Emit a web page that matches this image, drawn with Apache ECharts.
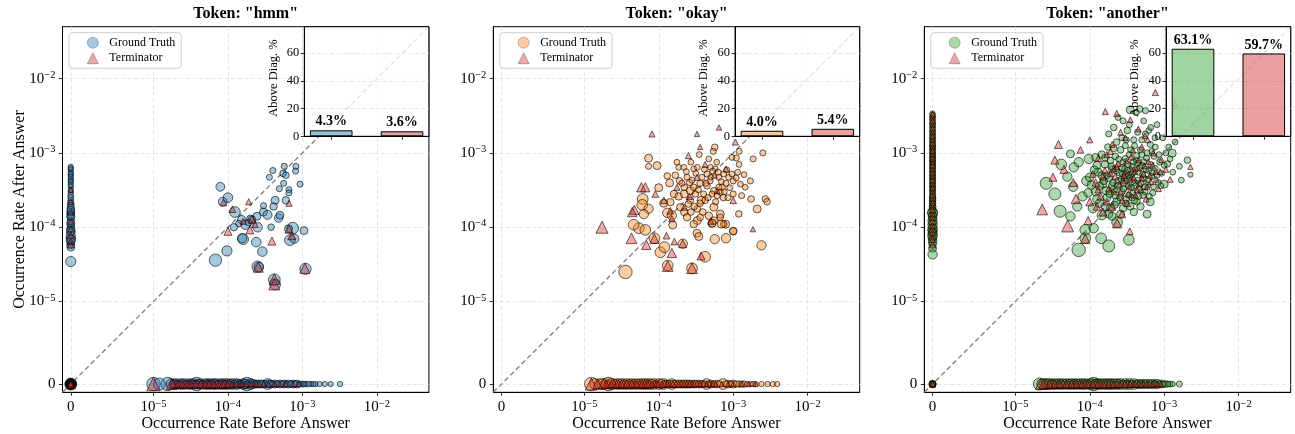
<!DOCTYPE html>
<html><head><meta charset="utf-8">
<script src="https://cdn.jsdelivr.net/npm/echarts@6/dist/echarts.min.js"></script>
<style>html,body{margin:0;padding:0;background:#fff}#c{width:1295px;height:434px}</style>
</head><body><div id="c"></div>
<script>
// ---------------- DATA ----------------
const panelTokens = ['hmm', 'okay', 'another'];
const aboveDiagGT = [4.3, 4.0, 63.1];      // % of Ground Truth points above the diagonal
const aboveDiagTerm = [3.6, 5.4, 59.7];    // % of Terminator points above the diagonal
const rateTicks = [0, 1e-5, 1e-4, 1e-3, 1e-2];
const rateTickLabels = ['0', '10{sup|\u22125}', '10{sup|\u22124}', '10{sup|\u22123}', '10{sup|\u22122}'];
const rateMin = -1e-6, rateMax = 0.05;
const insetTicks = [0, 20, 40, 60];
const insetMax = 79;

// points: [rate before answer, rate after answer, marker weight]
const hmmGT = [
 [0,0,3.4],[0,0,3.2],[0,0,3.0],[0,0,2.8],[0,0,2.6],[0,0,2.4],[0,0,2.2],[0,0,2.0],[0,0,1.8],[0,0,1.6],[0,0,1.4],[0,0,1.2],[0,0,1.0],
 [0,6.5e-4,1],[0,6.0e-4,1],[0,5.5e-4,1],[0,5.0e-4,1],[0,4.4e-4,1],[0,4.0e-4,1],[0,3.5e-4,1],[0,3.0e-4,1],[0,2.7e-4,1.2],[0,2.3e-4,1.2],[0,2.1e-4,1.5],[0,1.8e-4,1.8],[0,1.6e-4,2],[0,1.5e-4,2],[0,1.35e-4,1.8],[0,1.2e-4,1.8],[0,1.05e-4,1.8],[0,9.5e-5,2],[0,8.5e-5,2.2],[0,7.5e-5,2.5],[0,7.0e-5,2.2],[0,6.4e-5,2],[0,5.8e-5,2],[0,5.4e-5,2],[0,3.45e-5,2.8],
 [0,6.2e-4,1],[0,5.2e-4,1],[0,4.7e-4,1],[0,4.2e-4,1],[0,3.7e-4,1],[0,3.2e-4,1],[0,2.5e-4,1.2],[0,1.95e-4,1.5],[0,1.7e-4,1.8],[0,1.4e-4,2],[0,1.12e-4,2],[0,9.0e-5,2.2],[0,6.7e-5,2.5],
 [1.0e-5,0,4],[1.55e-5,0,4],[1.75e-5,0,3],[2.0e-5,0,3],[2.3e-5,0,3],[2.6e-5,0,3],[3.0e-5,0,3],[3.4e-5,0,3],[3.8e-5,0,4],[4.3e-5,0,3],[5.0e-5,0,3],[5.6e-5,0,3],[6.3e-5,0,3],[7.0e-5,0,3],[8.0e-5,0,3],[9.0e-5,0,3],[1.0e-4,0,3],[1.15e-4,0,3],[1.3e-4,0,3],[1.45e-4,0,2],[1.6e-4,0,3],[1.8e-4,0,4],[2.0e-4,0,3],[2.3e-4,0,2],[2.6e-4,0,2],[3.0e-4,0,2],[3.4e-4,0,3],[3.8e-4,0,2],[4.3e-4,0,2],[5.0e-4,0,2],[5.7e-4,0,2],[6.5e-4,0,2],[7.5e-4,0,2],[8.5e-4,0,2],[1.0e-3,0,1],[1.1e-3,0,1],[1.3e-3,0,1],[1.5e-3,0,1],[1.7e-3,0,1],[2.0e-3,0,1],[2.4e-3,0,1],[3.2e-3,0,1],
 [1.2e-5,0,3.5],[1.9e-5,0,2.5],[2.15e-5,0,2],[2.45e-5,0,2.5],[2.8e-5,0,2],[3.2e-5,0,2.5],[3.6e-5,0,2],[4.0e-5,0,2.5],[4.6e-5,0,2],[5.3e-5,0,2.5],[5.9e-5,0,2],[6.6e-5,0,2.5],[7.5e-5,0,2],[8.5e-5,0,2.5],[9.5e-5,0,2],[1.08e-4,0,2.5],[1.22e-4,0,2],[1.38e-4,0,2.5],[1.52e-4,0,2],[1.7e-4,0,2.5],[1.9e-4,0,2],[2.15e-4,0,2.5],[2.45e-4,0,2],[2.8e-4,0,2],[3.2e-4,0,1.5],[3.6e-4,0,2],[4.0e-4,0,1.5],[4.6e-4,0,1.5],[5.3e-4,0,1.5],[6.1e-4,0,1.5],[7.0e-4,0,1.5],[8.0e-4,0,1.5],[9.2e-4,0,1.2],[1.05e-3,0,1.2],[1.2e-3,0,1.2],[1.4e-3,0,1],
 [6.8e-5,3.6e-5,3.6],[9.7e-5,4.8e-5,2.8],[7.9e-5,3.5e-4,2.3],[1.0e-4,2.5e-4,2.6],[8.5e-5,2.2e-4,2.3],[1.24e-4,1.6e-4,3],[1.53e-4,1.26e-4,2.2],[1.73e-4,1.08e-4,2.6],[1.6e-4,6.9e-5,3],[1.55e-4,7.1e-5,2.5],[2.1e-4,1.26e-4,2],[2.5e-4,1.0e-4,2.6],[2.4e-4,6.3e-5,2.6],[2.9e-4,4.7e-5,2.6],[2.5e-4,2.95e-5,3.2],[2.6e-4,2.9e-5,2.6],[2.45e-4,1.4e-4,2],[3.0e-4,1.6e-4,2],[3.4e-4,1.47e-4,2.4],[4.3e-4,2.3e-4,2],[4.1e-4,1.9e-4,1.8],[4.8e-4,1.33e-4,2.2],[5.0e-4,1.45e-4,2],[4.2e-4,1.96e-5,3.4],[4.3e-4,1.7e-5,3],[6.0e-4,2.3e-4,1.8],[7.4e-4,9.7e-5,3.4],[6.8e-4,6.7e-5,3],[7.8e-4,7.0e-5,2.4],[1.05e-3,9.0e-5,2],[1.1e-3,2.75e-5,3.2],[3.6e-4,4.7e-4,1.3],[4.9e-4,3.3e-4,1.3],[5.6e-4,3.9e-4,1.3],[6.6e-4,3.2e-4,1.3],[6.6e-4,2.9e-4,1.3],[9.3e-4,3.8e-4,1.3],[5.5e-4,5.3e-4,1.5],[6.0e-4,5.0e-4,1.5],[8.1e-4,5.7e-4,1.3],[4.0e-4,5.8e-4,1.3],[5.7e-4,6.6e-4,1.3],[8.2e-4,6.6e-4,1.3],[3.0e-4,1.95e-4,1.3],[2.0e-4,1.3e-4,1.8],[1.9e-4,1.15e-4,1.5],[1.4e-4,1.12e-4,1.5],[1.2e-4,1.0e-4,1.8],[3.8e-4,1.0e-4,1.5],[6.5e-4,9.5e-5,2]
];
const hmmTerm = [
 [0,0,2.5],[0,0,2.0],[0,0,1.5],[0,0,1.2],
 [0,3.2e-4,1],[0,2.2e-4,1],[0,1.6e-4,1.2],[0,1.2e-4,1.2],[0,9.5e-5,1.2],[0,7.8e-5,1.5],[0,6.5e-5,1.2],[0,5.8e-5,1.2],
 [1.0e-5,0,4],[1.75e-5,0,3],[2.0e-5,0,2],[2.3e-5,0,2],[2.6e-5,0,2],[3.0e-5,0,2],[3.5e-5,0,2],[4.0e-5,0,2],[4.6e-5,0,2],[5.3e-5,0,2],[6.0e-5,0,2],[7.0e-5,0,2],[8.0e-5,0,2],[9.0e-5,0,2],[1.05e-4,0,2],[1.2e-4,0,1],[1.4e-4,0,1],[1.6e-4,0,1],[1.9e-4,0,1],[2.2e-4,0,1],[2.6e-4,0,1],[3.0e-4,0,1],[3.5e-4,0,1],[4.2e-4,0,1],[5.0e-4,0,1],[6.0e-4,0,1],[7.5e-4,0,1],[9.0e-4,0,1],
 [1.85e-5,0,2],[2.15e-5,0,1.8],[2.45e-5,0,1.8],[2.8e-5,0,1.8],[3.2e-5,0,1.8],[3.7e-5,0,1.8],[4.3e-5,0,1.8],[5.0e-5,0,1.8],[5.6e-5,0,1.8],[6.5e-5,0,1.8],[7.5e-5,0,1.8],[8.5e-5,0,1.8],[9.8e-5,0,1.5],[1.12e-4,0,1.3],[1.3e-4,0,1.3],[1.5e-4,0,1.2],[1.75e-4,0,1.2],[2.05e-4,0,1.2],[2.4e-4,0,1],
 [8.7e-5,2.15e-4,1.5],[1.15e-4,1.75e-4,1.5],[1.0e-4,8.8e-5,2],[2.1e-4,1.28e-4,2],[1.97e-4,9.2e-5,2],[3.9e-4,6.5e-5,2],[2.55e-4,2.9e-5,2.8],[4.2e-4,2.0e-5,3],[4.2e-4,1.7e-5,3.2],[6.6e-4,2.1e-4,1.3],[6.6e-4,9.4e-5,2],[7.2e-4,7.7e-5,2],[1.08e-3,2.8e-5,2.8],[1.9e-4,2.2e-4,1.3],[2.3e-4,1.1e-4,1.5],[1.6e-4,1.2e-4,1.3]
];
const okayGT = [
 [1.24e-5,0,4],[1.6e-5,0,3],[1.9e-5,0,3],[2.1e-5,0,4],[2.4e-5,0,3],[2.8e-5,0,3],[3.2e-5,0,3],[3.7e-5,0,3],[4.3e-5,0,3],[5.0e-5,0,3],[5.8e-5,0,3],[6.6e-5,0,3],[7.5e-5,0,3],[8.6e-5,0,3],[1.0e-4,0,3],[1.15e-4,0,3],[1.3e-4,0,2],[1.5e-4,0,3],[1.7e-4,0,2],[2.0e-4,0,2],[2.3e-4,0,2],[2.6e-4,0,2],[3.0e-4,0,2],[3.5e-4,0,2],[4.4e-4,0,3],[5.0e-4,0,2],[6.0e-4,0,2],[7.3e-4,0,3],[8.5e-4,0,2],[1.0e-3,0,2],[1.2e-3,0,1.5],[1.4e-3,0,1.5],[1.7e-3,0,1],[2.0e-3,0,1],[2.4e-3,0,1],[2.9e-3,0,1],[3.4e-3,0,1],[3.9e-3,0,1],
 [1.4e-5,0,3],[1.75e-5,0,3],[2.25e-5,0,3],[2.6e-5,0,2.5],[3.0e-5,0,2.5],[3.45e-5,0,2.5],[4.0e-5,0,2.5],[4.6e-5,0,2.5],[5.4e-5,0,2.5],[6.2e-5,0,2.5],[7.0e-5,0,2.5],[8.0e-5,0,2.5],[9.3e-5,0,2],[1.07e-4,0,2.5],[1.22e-4,0,2],[1.4e-4,0,2],[1.6e-4,0,2],[1.85e-4,0,2],[2.15e-4,0,2],[2.45e-4,0,2],[2.8e-4,0,1.8],[3.25e-4,0,1.8],[3.8e-4,0,1.8],[4.1e-4,0,1.5],[4.7e-4,0,1.5],[5.5e-4,0,1.5],[6.5e-4,0,1.5],[8.0e-4,0,1.5],[9.3e-4,0,1.3],[1.1e-3,0,1.3],[1.3e-3,0,1.2],[1.55e-3,0,1],[1.85e-3,0,1],
 [7.3e-5,8.5e-4,2],[9.5e-5,6.75e-4,2],[7.3e-5,6.6e-4,1.3],[5.65e-4,1.19e-3,1.5],[5.4e-4,1.05e-3,1.3],[1.4e-4,3.95e-4,2],[1.0e-4,3.4e-4,2],[6.1e-5,2.4e-4,3],[6.0e-5,2.0e-4,3],[7.3e-5,1.77e-4,2.5],[6.3e-5,1.5e-4,2.5],[1.17e-4,2.1e-4,2],[1.3e-4,1.56e-4,2.5],[1.5e-4,1.44e-4,2.5],[2.2e-4,2.8e-4,2],[2.66e-4,3.1e-4,2],[3.7e-4,2.3e-4,2],[5.5e-4,1.86e-4,2],[6.7e-4,1.5e-4,2],[7.9e-4,1.1e-4,2],[5.2e-4,1.13e-4,2],[3.3e-4,1.23e-4,2],[7.1e-4,3.45e-4,1.5],[7.4e-4,2.5e-4,1.5],[1.19e-3,1.51e-4,1.5],[1.74e-3,2.4e-4,1.5],[2.1e-3,1.76e-4,2],[2.7e-3,2.4e-4,1.5],[2.85e-3,2.2e-4,1.5],[2.5e-3,1.0e-3,1.3],[1.85e-3,8.3e-4,1.3],[1.1e-3,8.55e-4,1.3],[1.7e-3,4.2e-4,1.3],[1.0e-3,8.8e-5,1.8],
 [1.85e-4,6.4e-4,1.2],[2.4e-4,4.7e-4,1.3],[2.95e-4,6.1e-4,1.2],[3.3e-4,6.4e-4,1.2],[3.8e-4,4.7e-4,1.3],[4.45e-4,5.2e-4,1.3],[4.95e-4,6.4e-4,1.2],[5.75e-4,6.1e-4,1.2],[6.4e-4,4.7e-4,1.3],[7.45e-4,5.2e-4,1.2],[8.7e-4,4.7e-4,1.2],[9.6e-4,5.2e-4,1.2],[1.0e-3,4.2e-4,1.3],[1.25e-3,3.8e-4,1.2],[1.45e-3,3.45e-4,1.2],[6.4e-4,3.45e-4,1.3],[5.5e-4,3.1e-4,1.5],[4.45e-4,3.6e-4,1.5],[2.95e-4,3.45e-4,1.5],[2.2e-4,3.45e-4,1.5],[1.95e-4,1.86e-4,1.8],[2.2e-4,1.6e-4,1.8],[2.4e-4,1.36e-4,1.8],[2.95e-4,1.1e-4,1.8],[3.6e-4,2.1e-4,1.5],[4.2e-4,2.3e-4,1.5],[4.7e-4,1.43e-4,1.8],[5.5e-4,1.23e-4,1.8],[6.7e-4,1.36e-4,1.5],[7.45e-4,1.1e-4,1.5],[2.17e-4,6.4e-4,1.2],[1.67e-4,5.0e-4,1.5],[1.43e-4,2.17e-4,1.8],[1.6e-4,2.8e-4,1.8],[1.85e-4,2.6e-4,1.8],[2.66e-4,2.3e-4,1.5],[3.1e-4,2.8e-4,1.5],[3.3e-4,1.76e-4,1.5],[4.0e-4,2.8e-4,1.3],[5.2e-4,2.8e-4,1.3],[6.1e-4,2.66e-4,1.3],[6.7e-4,2.95e-4,1.3],[8.5e-4,2.5e-4,1.3],[1.0e-3,2.8e-4,1.3],[1.3e-3,2.66e-4,1.3],[9.6e-4,8.7e-4,1.2],[6.0e-4,7.5e-4,1.2],[4.7e-4,8.3e-4,1.2],[3.5e-4,9.5e-4,1.2],[2.7e-4,7.5e-4,1.2],[3.6e-4,3.9e-4,1.5],[2.6e-4,4.0e-4,1.5],[1.9e-4,4.2e-4,1.5],[4.9e-4,4.2e-4,1.3],[8.0e-4,3.9e-4,1.3],[1.15e-3,5.5e-4,1.2],[1.2e-3,7.0e-4,1.2],
 [2.05e-4,3.9e-4,1.3],[2.35e-4,5.6e-4,1.2],[2.5e-4,2.05e-4,1.5],[2.8e-4,4.3e-4,1.3],[3.0e-4,1.9e-4,1.5],[3.15e-4,5.3e-4,1.2],[3.4e-4,3.2e-4,1.3],[3.9e-4,1.6e-4,1.5],[4.1e-4,6.0e-4,1.2],[4.3e-4,3.9e-4,1.3],[4.6e-4,2.5e-4,1.3],[5.0e-4,4.7e-4,1.2],[5.3e-4,5.7e-4,1.2],[5.8e-4,2.2e-4,1.3],[6.3e-4,5.5e-4,1.2],[6.9e-4,4.1e-4,1.2],[7.6e-4,3.0e-4,1.2],[8.2e-4,5.9e-4,1.2],[9.0e-4,3.4e-4,1.2],[1.1e-3,4.6e-4,1.2],[1.4e-3,5.1e-4,1.2],[2.7e-4,1.6e-4,1.5],[3.6e-4,1.35e-4,1.5],[1.3e-4,4.9e-4,1.5],[1.75e-4,7.5e-4,1.2],
 [3.57e-5,2.5e-5,4],[5.4e-5,9.7e-5,3],[6.6e-5,9.2e-5,3],[8.75e-5,7.1e-5,3],[1.05e-4,4.6e-5,3],[1.19e-4,5.4e-5,3],[1.32e-4,3.05e-5,3],[2.1e-4,6.0e-5,2.5],[2.8e-4,2.8e-5,3],[4.2e-4,4.0e-5,3],[3.27e-4,8.3e-5,2],[3.45e-4,7.5e-5,2],[5.65e-4,6.9e-5,2.5],[8.0e-4,7.1e-5,2.5],[1.0e-3,8.9e-5,1.8],[2.4e-3,5.7e-5,2.5],[1.54e-4,1.07e-4,2],[5.2e-4,1.13e-4,2],[6.9e-4,1.1e-4,2],[4.6e-5,1.08e-4,3],[1.2e-3,1.05e-3,1.3]
];
const okayTerm = [
 [1.24e-5,0,3.5],[1.8e-5,0,2.5],[2.1e-5,0,2],[2.5e-5,0,2],[2.9e-5,0,2],[3.4e-5,0,2],[4.0e-5,0,2],[4.7e-5,0,2],[5.5e-5,0,2],[6.5e-5,0,2],[7.5e-5,0,2],[8.8e-5,0,1.5],[1.0e-4,0,1.5],[1.2e-4,0,1.5],[1.4e-4,0,1.5],[1.7e-4,0,1.5],[2.0e-4,0,1.5],[2.4e-4,0,1.3],[2.8e-4,0,1.3],[3.3e-4,0,1.3],[4.0e-4,0,1.3],[4.8e-4,0,1.3],[5.8e-4,0,1],[7.0e-4,0,1],[8.5e-4,0,1],[1.0e-3,0,1],[1.3e-3,0,1],[1.6e-3,0,1],[2.0e-3,0,1],
 [1.5e-5,0,2.5],[1.95e-5,0,2],[2.3e-5,0,1.8],[2.7e-5,0,1.8],[3.15e-5,0,1.8],[3.7e-5,0,1.8],[4.35e-5,0,1.8],[5.1e-5,0,1.8],[6.0e-5,0,1.8],[7.0e-5,0,1.8],[8.1e-5,0,1.5],[9.4e-5,0,1.5],[1.1e-4,0,1.3],[1.3e-4,0,1.3],[1.55e-4,0,1.3],[1.85e-4,0,1.3],[2.2e-4,0,1.2],[2.6e-4,0,1.2],[3.0e-4,0,1.2],[3.6e-4,0,1],[4.4e-4,0,1],[5.3e-4,0,1],
 [8.1e-5,1.8e-3,1.3],[3.27e-4,1.8e-3,1],[6.45e-4,2.2e-3,1],[3.6e-4,1.2e-3,1],[2.5e-4,9.2e-4,1.3],[1.07e-3,1.4e-3,1.3],[5.85e-5,3.45e-4,2.5],[6.6e-5,3.45e-4,2.5],[9.0e-5,2.8e-4,1.5],[4.7e-5,1.71e-4,2.5],[4.4e-5,1.6e-4,2.5],[1.17e-4,2.3e-4,1.5],[1.43e-4,1.67e-4,1.5],[1.27e-4,7.7e-5,1.5],[1.73e-5,1.0e-4,3.5],[4.3e-5,7.1e-5,3],[6.8e-5,5.8e-5,2.5],[1.62e-4,6.4e-5,1.5],[1.5e-4,4.5e-5,2.5],[1.32e-4,3.0e-5,3],[2.8e-4,2.8e-5,3],[3.7e-4,4.1e-5,2],[1.84e-3,9.4e-5,1],[8.75e-5,7.0e-5,2.5],[2.1e-4,6.0e-5,2],[1.76e-4,3.45e-4,1.3],[3.27e-4,4.7e-4,1.3],[6.1e-4,3.1e-4,1.3],[1.0e-3,2.3e-4,1.5],[8.0e-4,6.1e-4,1.2],[2.2e-4,1.86e-4,1.3],[5.0e-4,1.2e-4,1.3],[4.2e-4,7.0e-4,1.2],[2.6e-4,2.6e-4,1.3],[5.6e-4,5.0e-4,1.2],[1.5e-4,1.3e-4,1.3]
];
const anotherGT = [
 [0,0,1.8],[0,0,1.6],[0,0,1.4],[0,0,1.2],[0,0,1.0],
 [0,3.4e-3,1],[0,3.0e-3,1],[0,2.6e-3,1],[0,2.3e-3,1],[0,2.0e-3,1],[0,1.8e-3,1],[0,1.6e-3,1],[0,1.45e-3,1],[0,1.3e-3,1],[0,1.2e-3,1],[0,1.1e-3,1],[0,1.0e-3,1],[0,9.2e-4,1],[0,8.5e-4,1],[0,7.8e-4,1],[0,7.2e-4,1],[0,6.6e-4,1],[0,6.0e-4,1],[0,5.5e-4,1],[0,5.0e-4,1],[0,4.6e-4,1],[0,4.2e-4,1],[0,3.8e-4,1],[0,3.5e-4,1],[0,3.2e-4,1],[0,2.9e-4,1],[0,2.6e-4,1],[0,2.4e-4,1.2],[0,2.2e-4,1.2],[0,2.0e-4,1.3],[0,1.8e-4,1.5],[0,1.6e-4,2.5],[0,1.45e-4,2],[0,1.3e-4,2],[0,1.15e-4,2],[0,1.0e-4,2],[0,9.0e-5,2.5],[0,8.0e-5,2.5],[0,7.0e-5,2],[0,6.0e-5,2],[0,5.2e-5,2],[0,4.3e-5,2.5],
 [0,3.2e-3,1.3],[0,2.8e-3,1.3],[0,2.45e-3,1.3],[0,2.15e-3,1.3],[0,1.9e-3,1.3],[0,1.7e-3,1.3],[0,1.52e-3,1.3],[0,1.38e-3,1.3],[0,1.25e-3,1.3],[0,1.15e-3,1.3],[0,1.05e-3,1.3],[0,9.6e-4,1.3],[0,8.8e-4,1.3],[0,8.1e-4,1.3],[0,7.5e-4,1.3],[0,6.9e-4,1.3],[0,6.3e-4,1.3],[0,5.75e-4,1.3],[0,5.25e-4,1.3],[0,4.8e-4,1.3],[0,4.4e-4,1.3],[0,4.0e-4,1.3],[0,3.65e-4,1.3],[0,3.35e-4,1.3],[0,3.05e-4,1.3],[0,2.75e-4,1.3],[0,2.5e-4,1.5],[0,2.3e-4,1.5],[0,2.1e-4,1.5],[0,1.9e-4,1.6],[0,1.7e-4,1.6],[0,1.55e-4,2.8],[0,1.38e-4,2.2],[0,1.22e-4,2.5],[0,1.08e-4,2.5],[0,9.5e-5,2.5],[0,8.5e-5,2.2],[0,7.5e-5,2.5],[0,6.5e-5,2.2],
 [2.1e-5,0,3.5],[2.5e-5,0,3],[2.9e-5,0,3],[3.3e-5,0,3],[3.8e-5,0,3],[4.3e-5,0,3],[5.0e-5,0,3],[5.7e-5,0,3],[6.5e-5,0,3],[7.5e-5,0,3],[8.5e-5,0,3],[1.0e-4,0,3],[1.13e-4,0,4],[1.25e-4,0,3],[1.4e-4,0,3],[1.6e-4,0,3],[1.8e-4,0,3],[2.0e-4,0,3],[2.3e-4,0,3],[2.6e-4,0,3],[3.0e-4,0,3],[3.4e-4,0,3],[3.9e-4,0,3],[4.5e-4,0,2.5],[5.2e-4,0,2.5],[6.0e-4,0,2.5],[7.0e-4,0,2.5],[8.0e-4,0,2.5],[9.2e-4,0,2],[1.05e-3,0,1.5],[1.2e-3,0,1.3],[1.6e-3,0,1.3],
 [2.3e-5,0,3],[2.7e-5,0,3],[3.1e-5,0,2.5],[3.55e-5,0,2.5],[4.05e-5,0,2.5],[4.65e-5,0,2.5],[5.35e-5,0,2.5],[6.1e-5,0,2.5],[7.0e-5,0,2.5],[8.0e-5,0,2.5],[9.2e-5,0,2.5],[1.06e-4,0,3],[1.18e-4,0,2.5],[1.32e-4,0,2.5],[1.5e-4,0,2.5],[1.7e-4,0,2.5],[1.9e-4,0,2.5],[2.15e-4,0,2.5],[2.45e-4,0,2.5],[2.8e-4,0,2],[3.2e-4,0,2],[3.65e-4,0,2],[4.2e-4,0,2],[4.85e-4,0,2],[5.6e-4,0,2],[6.5e-4,0,2],[7.5e-4,0,1.8],[8.6e-4,0,1.5],[9.8e-4,0,1.3],[1.12e-3,0,1.2],[1.3e-3,0,1],
 [2.6e-5,3.9e-4,3.5],[3.4e-5,2.8e-4,3.5],[4.0e-5,1.64e-4,3.5],[4.15e-5,7.0e-4,3],[5.5e-5,9.7e-4,2],[6.1e-5,6.4e-4,2.5],[7.1e-5,7.5e-4,2.5],[9.7e-5,8.3e-4,2.5],[1.2e-4,8.7e-4,2],[3.5e-4,3.8e-3,2],[4.7e-4,3.9e-3,1.5],[5.6e-4,3.7e-3,1.3],[3.2e-4,2.0e-3,1.5],[2.1e-4,2.2e-3,1.5],[2.25e-3,5.1e-4,1],[2.05e-3,8.0e-4,1.5],[1.28e-3,9.9e-4,2],[1.1e-3,7.1e-4,1.5],[1.0e-3,3.8e-4,2],[6.5e-4,2.2e-4,2],[5.9e-4,1.5e-4,2],[2.33e-4,1.17e-4,3],[7.1e-5,4.95e-5,4],[8.7e-5,9.2e-5,3],[8.7e-5,7.1e-5,3],[1.13e-4,9.7e-5,2.5],[1.42e-4,7.1e-5,3],[1.8e-4,5.6e-5,3.5],[3.35e-4,6.75e-5,3],[5.5e-5,1.4e-4,2.5],[6.8e-5,1.9e-4,2.5],[5.0e-5,4.8e-4,2.5],[6.0e-5,3.5e-4,2.5],[8.0e-5,2.6e-4,2.5],[9.0e-5,4.2e-4,2.5],
 [1.3e-4,5.5e-4,2],[1.5e-4,3.8e-4,2],[1.6e-4,7.0e-4,1.8],[1.7e-4,2.5e-4,2],[1.8e-4,4.6e-4,1.8],[1.9e-4,1.8e-4,2.2],[2.0e-4,6.0e-4,1.8],[2.1e-4,3.2e-4,1.8],[2.2e-4,9.0e-4,1.5],[2.3e-4,2.2e-4,2],[2.4e-4,4.2e-4,1.5],[2.5e-4,5.4e-4,1.5],[2.6e-4,1.5e-4,2],[2.7e-4,3.0e-4,1.5],[2.8e-4,7.5e-4,1.3],[2.9e-4,4.6e-4,1.3],[3.0e-4,1.25e-3,1.3],[3.1e-4,2.4e-4,1.5],[3.2e-4,5.8e-4,1.3],[3.3e-4,3.6e-4,1.3],[3.4e-4,9.5e-4,1.3],[3.5e-4,1.9e-4,1.8],[3.6e-4,4.9e-4,1.3],[3.7e-4,6.6e-4,1.3],[3.8e-4,2.9e-4,1.3],[3.9e-4,1.5e-3,1.3],[4.0e-4,4.0e-4,1.3],[4.2e-4,8.0e-4,1.3],[4.3e-4,2.2e-4,1.5],[4.5e-4,5.5e-4,1.3],[4.6e-4,3.3e-4,1.3],[4.8e-4,1.1e-3,1.3],[5.0e-4,6.8e-4,1.3],[5.2e-4,2.7e-4,1.5],[5.4e-4,4.5e-4,1.3],[5.6e-4,1.8e-3,1.3],[5.8e-4,8.5e-4,1.3],[6.0e-4,3.7e-4,1.3],[6.2e-4,5.8e-4,1.3],[6.5e-4,1.3e-3,1.3],[6.8e-4,4.8e-4,1.3],[7.0e-4,2.9e-4,1.3],[7.3e-4,9.0e-4,1.3],[7.6e-4,6.2e-4,1.2],[8.0e-4,2.4e-3,1.2],[8.3e-4,4.0e-4,1.2],[8.7e-4,7.5e-4,1.2],[9.2e-4,5.3e-4,1.2],[9.6e-4,1.6e-3,1.2],[1.15e-3,1.2e-3,1.2],[1.3e-3,5.5e-4,1.2],[1.4e-3,1.4e-3,1.2],
 [1.2e-4,3.0e-4,2.2],[1.35e-4,2.1e-4,2.2],[1.45e-4,1.45e-4,2.5],[1.1e-4,1.8e-4,2.5],[1.0e-4,4.7e-4,2.2],[1.25e-4,6.8e-4,2],[1.45e-4,9.5e-4,1.8],[1.75e-4,1.2e-3,1.5],[2.3e-4,1.4e-3,1.5],[2.6e-4,1.1e-3,1.5],[2.0e-4,3.6e-4,1.8],[2.2e-4,2.7e-4,1.8],[2.7e-4,6.3e-4,1.5],[3.0e-4,8.4e-4,1.3],[3.3e-4,5.0e-4,1.3],[4.0e-4,1.25e-3,1.3],[4.4e-4,7.3e-4,1.3],[5.0e-4,9.5e-4,1.3],[5.5e-4,3.0e-4,1.3],[6.2e-4,2.0e-3,1.2],[6.8e-4,1.05e-3,1.2],[7.5e-4,1.6e-3,1.2],[2.8e-4,1.8e-4,1.8],[3.9e-4,1.6e-4,1.8],[4.8e-4,1.9e-4,1.8],[1.65e-4,3.1e-4,2],[2.9e-4,3.9e-4,1.5],[3.7e-4,2.5e-4,1.5],[1.9e-4,7.9e-4,1.5],[4.2e-4,3.5e-3,1.3],[2.8e-4,2.7e-3,1.3],
 [1.55e-4,4.2e-4,1.8],[1.7e-4,5.0e-4,1.5],[1.85e-4,2.8e-4,1.8],[1.95e-4,6.6e-4,1.5],[2.05e-4,4.0e-4,1.5],[2.15e-4,2.0e-4,1.8],[2.25e-4,5.8e-4,1.5],[2.35e-4,3.6e-4,1.5],[2.45e-4,8.2e-4,1.3],[2.55e-4,2.5e-4,1.5],[2.65e-4,4.4e-4,1.3],[2.75e-4,5.2e-4,1.3],[2.85e-4,3.3e-4,1.3],[2.95e-4,6.1e-4,1.3],[3.05e-4,2.1e-4,1.5],[3.15e-4,4.3e-4,1.3],[3.25e-4,7.0e-4,1.3],[3.35e-4,2.7e-4,1.3],[3.45e-4,4.6e-4,1.3],[3.55e-4,1.1e-3,1.3],[3.65e-4,3.4e-4,1.3],[3.75e-4,5.3e-4,1.3],[3.85e-4,7.6e-4,1.3],[3.95e-4,2.3e-4,1.5],[4.05e-4,5.9e-4,1.3],[4.15e-4,3.6e-4,1.3],[4.25e-4,9.2e-4,1.3],[4.4e-4,4.3e-4,1.3],[4.55e-4,2.6e-4,1.3],[4.7e-4,6.3e-4,1.3],[4.85e-4,3.9e-4,1.3],[5.0e-4,1.5e-3,1.3],[5.15e-4,5.1e-4,1.3],[5.3e-4,7.6e-4,1.3],[5.5e-4,3.5e-4,1.3],[5.7e-4,6.0e-4,1.3],[5.9e-4,1.0e-3,1.3],[6.1e-4,4.4e-4,1.3],[6.3e-4,2.6e-4,1.3],[6.6e-4,7.0e-4,1.2],[6.9e-4,5.4e-4,1.2],[7.2e-4,3.5e-4,1.2],[7.6e-4,1.2e-3,1.2],[8.0e-4,5.0e-4,1.2],[8.5e-4,9.5e-4,1.2],[9.0e-4,3.6e-4,1.2],[1.0e-3,6.8e-4,1.2],[1.05e-3,1.0e-3,1.2],[1.2e-3,8.3e-4,1.2],[1.6e-3,6.6e-4,1.2],[1.7e-3,4.3e-4,1.2],[1.45e-4,5.0e-4,1.8],[1.35e-4,3.6e-4,2],[1.25e-4,2.4e-4,2.2],[1.6e-4,1.9e-4,2],[1.8e-4,1.5e-4,2],[2.0e-4,1.4e-4,2],[1.15e-4,5.9e-4,2],[1.05e-4,3.7e-4,2.2],[9.5e-5,2.9e-4,2.2],[1.6e-4,8.6e-4,1.5],[2.1e-4,1.15e-3,1.5],[2.7e-4,1.6e-3,1.3],[3.4e-4,2.4e-3,1.3],[3.1e-4,1.5e-3,1.3],[4.4e-4,1.9e-3,1.3],[5.3e-4,2.7e-3,1.2],[6.6e-4,2.2e-3,1.2],[2.4e-4,3.0e-3,1.2],[1.8e-4,1.8e-3,1.3]
];
const anotherTerm = [
 [0,0,1.3],[0,0,1.0],
 [0,3.0e-3,1],[0,2.4e-3,1],[0,1.9e-3,1],[0,1.5e-3,1],[0,1.2e-3,1],[0,9.5e-4,1],[0,7.5e-4,1],[0,6.0e-4,1],[0,4.8e-4,1],[0,3.8e-4,1],[0,3.0e-4,1],[0,2.4e-4,1],[0,1.9e-4,1.2],[0,1.5e-4,1.2],[0,1.2e-4,1.5],[0,9.5e-5,1.5],[0,7.5e-5,1.5],[0,5.8e-5,1.5],
 [0,3.3e-3,1.2],[0,2.7e-3,1.2],[0,2.15e-3,1.2],[0,1.7e-3,1.2],[0,1.35e-3,1.2],[0,1.08e-3,1.2],[0,8.5e-4,1.2],[0,6.8e-4,1.2],[0,5.4e-4,1.2],[0,4.3e-4,1.2],[0,3.4e-4,1.2],[0,2.7e-4,1.2],[0,2.15e-4,1.2],[0,1.7e-4,1.2],[0,1.35e-4,1.2],[0,1.05e-4,1.2],[0,8.5e-5,1.2],[0,6.8e-5,1.2],
 [2.2e-5,0,3],[2.6e-5,0,2.5],[3.1e-5,0,2.5],[3.7e-5,0,2],[4.4e-5,0,2],[5.2e-5,0,2],[6.2e-5,0,2],[7.3e-5,0,2],[8.6e-5,0,2],[1.0e-4,0,2],[1.2e-4,0,2],[1.4e-4,0,2],[1.65e-4,0,2],[1.95e-4,0,2],[2.3e-4,0,1.8],[2.7e-4,0,1.8],[3.2e-4,0,1.8],[3.8e-4,0,1.5],[4.5e-4,0,1.5],[5.3e-4,0,1.5],[6.3e-4,0,1.3],[7.5e-4,0,1.3],[9.0e-4,0,1.3],
 [2.4e-5,0,2.5],[2.85e-5,0,2],[3.4e-5,0,2],[4.0e-5,0,1.8],[4.8e-5,0,1.8],[5.7e-5,0,1.8],[6.7e-5,0,1.8],[7.9e-5,0,1.8],[9.3e-5,0,1.8],[1.1e-4,0,1.8],[1.3e-4,0,1.8],[1.52e-4,0,1.8],[1.8e-4,0,1.5],[2.1e-4,0,1.5],[2.5e-4,0,1.5],[2.95e-4,0,1.5],[3.5e-4,0,1.3],[4.1e-4,0,1.3],[4.9e-4,0,1.3],[5.8e-4,0,1.2],[6.9e-4,0,1.2],[8.2e-4,0,1],
 [2.3e-5,1.73e-4,3],[3.8e-5,1.3e-3,2],[3.4e-5,8.0e-4,2],[3.2e-5,4.7e-4,2],[5.05e-5,1.04e-4,3.5],[1.62e-4,3.6e-3,1.3],[2.3e-4,3.4e-3,1.3],[7.6e-4,6.5e-3,1.3],[2.25e-3,6.5e-4,1],[3.45e-4,8.8e-5,1.5],[8.7e-5,7.0e-5,2.5],[2.33e-4,1.13e-4,2.5],[9.5e-5,1.23e-4,2],[1.4e-3,4.6e-3,1.2],[4.5e-5,6.0e-4,2],[6.5e-5,2.4e-4,2.5],
 [1.2e-4,4.0e-4,1.8],[1.4e-4,2.6e-4,1.8],[1.6e-4,5.8e-4,1.5],[1.8e-4,3.3e-4,1.5],[2.0e-4,1.9e-4,1.8],[2.2e-4,4.8e-4,1.5],[2.4e-4,7.2e-4,1.3],[2.6e-4,2.9e-4,1.5],[2.8e-4,4.2e-4,1.3],[3.0e-4,5.6e-4,1.3],[3.2e-4,2.1e-4,1.5],[3.4e-4,3.5e-4,1.3],[3.6e-4,8.8e-4,1.3],[3.9e-4,4.6e-4,1.3],[4.1e-4,2.7e-4,1.3],[4.4e-4,6.3e-4,1.3],[4.7e-4,3.9e-4,1.3],[5.0e-4,1.2e-3,1.2],[5.3e-4,5.2e-4,1.2],[5.7e-4,2.4e-4,1.3],[6.1e-4,7.6e-4,1.2],[6.6e-4,4.1e-4,1.2],[7.1e-4,1.0e-3,1.2],[7.7e-4,5.6e-4,1.2],[8.4e-4,3.3e-4,1.2],[9.2e-4,8.1e-4,1.2],[1.05e-3,6.0e-4,1.2],[1.2e-3,4.4e-4,1.2],[1.5e-4,1.6e-4,2],[2.7e-4,1.5e-4,1.8],[1.3e-4,8.5e-4,1.5],[1.9e-4,1.05e-3,1.3],[3.0e-4,1.6e-3,1.2],[4.5e-4,2.1e-3,1.2],[6.0e-4,1.5e-3,1.2],[1.0e-4,2.2e-4,2],[2.1e-4,6.2e-4,1.3],[3.6e-4,6.1e-4,1.3],[4.9e-4,3.2e-4,1.3],
 [1.3e-4,3.2e-4,1.5],[1.5e-4,4.8e-4,1.5],[1.7e-4,2.2e-4,1.5],[1.9e-4,5.3e-4,1.3],[2.1e-4,3.0e-4,1.3],[2.3e-4,6.6e-4,1.3],[2.5e-4,3.8e-4,1.3],[2.7e-4,2.3e-4,1.3],[2.9e-4,5.0e-4,1.3],[3.1e-4,7.8e-4,1.2],[3.3e-4,2.8e-4,1.3],[3.5e-4,4.4e-4,1.2],[3.8e-4,1.1e-3,1.2],[4.0e-4,5.6e-4,1.2],[4.3e-4,3.2e-4,1.2],[4.6e-4,8.0e-4,1.2],[5.0e-4,4.6e-4,1.2],[5.4e-4,6.7e-4,1.2],[5.9e-4,3.5e-4,1.2],[6.4e-4,5.0e-4,1.2],[7.0e-4,6.8e-4,1.2],[7.8e-4,4.4e-4,1.2],[8.8e-4,5.6e-4,1.2],[1.1e-4,5.2e-4,1.5],[1.25e-4,1.9e-4,1.8],[2.0e-4,1.3e-3,1.2],[2.6e-4,1.9e-3,1.2],[3.5e-4,2.8e-3,1.2],[5.5e-4,1.7e-3,1.2],[1.7e-4,9.5e-4,1.3],[6.0e-5,4.0e-4,2],[7.5e-5,1.1e-3,1.5],[1.0e-4,1.5e-3,1.3]
];
const groundTruthSets = [hmmGT, okayGT, anotherGT];
const terminatorSets = [hmmTerm, okayTerm, anotherTerm];

// ---------------- STYLE / LAYOUT ----------------
const FONT = '"Liberation Serif","DejaVu Serif",serif';
const gtColors = ['31,119,180', '255,127,14', '44,160,44'];
const termColor = '214,39,40';
const PANEL_LEFT = [62.5, 493.3, 924.3];
const PLOT_TOP = 26.7, PLOT_W = 366.4, PLOT_H = 365.6;
const INSET_DX = 241.8, INSET_H = 109.6;

// symmetric-log transform (linthresh 1e-5, linscale 1, base 10)
const LINTHRESH = 1e-5, LINSCALE = 1 / (1 - 1 / 10);
function symlog(v) {
  const a = Math.abs(v), s = Math.sign(v);
  if (a === 0) return 0;
  return a <= LINTHRESH ? (v / LINTHRESH) * LINSCALE : s * (LINSCALE + Math.log10(a / LINTHRESH));
}
const T_MIN = symlog(rateMin), T_MAX = symlog(rateMax);
const tickT = rateTicks.map(symlog);
function tickFormatter(val) {
  const i = tickT.findIndex(t => Math.abs(t - val) < 1e-6);
  return i >= 0 ? rateTickLabels[i] : '';
}
const markerSize = v => 2.6 + 2.7 * v[2];

const grids = [], xAxes = [], yAxes = [], series = [], legends = [], graphics = [];
const rateAxis = (gi, isY) => ({
  type: 'value', gridIndex: gi, min: T_MIN, max: T_MAX,
  axisLine: { show: true, onZero: false, lineStyle: { color: '#000', width: 1 } },
  axisTick: { show: true, inside: false, length: 3.5, customValues: tickT, lineStyle: { color: '#000', width: 0.8 } },
  axisLabel: { customValues: tickT, formatter: tickFormatter, fontFamily: FONT, fontSize: 15, color: '#000', margin: isY ? 7 : 6, lineHeight: 18,
    rich: { sup: { fontFamily: FONT, fontSize: 10.5, color: '#000', verticalAlign: 'top', lineHeight: 9 } } },
  splitLine: { show: true, lineStyle: { color: '#dedede', width: 0.8, type: [4, 2.5] } }
});

for (let p = 0; p < 3; p++) {
  const L = PANEL_LEFT[p];
  const mi = 2 * p, ii = 2 * p + 1;   // main grid/axis index, inset grid/axis index
  grids.push({ left: L, top: PLOT_TOP, width: PLOT_W, height: PLOT_H, show: true, borderColor: '#000', borderWidth: 1, backgroundColor: 'transparent' });
  xAxes.push(rateAxis(mi, false));
  yAxes.push(rateAxis(mi, true));
  const toT = pt => [symlog(pt[0]), symlog(pt[1]), pt[2]];
  series.push({
    type: 'line', xAxisIndex: mi, yAxisIndex: mi, data: [[T_MIN, T_MIN], [T_MAX, T_MAX]], symbol: 'none', silent: true, z: 1,
    lineStyle: { color: '#7f7f7f', width: 1.3, type: [5, 3] }
  });
  series.push({
    name: 'gt' + p, type: 'scatter', xAxisIndex: mi, yAxisIndex: mi, symbol: 'circle', symbolSize: markerSize,
    data: groundTruthSets[p].map(toT), z: 2,
    itemStyle: { color: 'rgba(' + gtColors[p] + ',0.5)', borderColor: 'rgba(0,0,0,0.85)', borderWidth: 0.9 }
  });
  series.push({
    name: 'term' + p, type: 'scatter', xAxisIndex: mi, yAxisIndex: mi, symbol: 'triangle', symbolSize: markerSize,
    data: terminatorSets[p].map(toT), z: 3,
    itemStyle: { color: 'rgba(' + termColor + ',0.5)', borderColor: 'rgba(30,0,0,0.85)', borderWidth: 0.9 }
  });
  legends.push({
    left: L + 6.5, top: 32.7, orient: 'vertical', itemWidth: 11, itemHeight: 11, itemGap: 3.5,
    padding: [4, 6, 4, 18], borderColor: '#cfcfcf', borderWidth: 1, borderRadius: 3, backgroundColor: 'rgba(255,255,255,0.85)',
    selectedMode: false, formatter: n => n.indexOf('gt') === 0 ? 'Ground Truth' : 'Terminator',
    textStyle: { fontFamily: FONT, fontSize: 12, color: '#000', padding: [0, 0, 0, 6] },
    data: [
      { name: 'gt' + p, icon: 'circle', itemStyle: { color: 'rgba(' + gtColors[p] + ',0.5)', borderColor: 'rgba(0,0,0,0.45)', borderWidth: 0.7 } },
      { name: 'term' + p, icon: 'triangle', itemStyle: { color: 'rgba(' + termColor + ',0.5)', borderColor: 'rgba(0,0,0,0.45)', borderWidth: 0.7 } }
    ]
  });
  // inset bar chart
  grids.push({ left: L + INSET_DX, top: PLOT_TOP, width: PLOT_W - INSET_DX, height: INSET_H, show: true, z: 10,
    backgroundColor: 'rgba(255,255,255,0.78)', borderColor: '#000', borderWidth: 1 });
  xAxes.push({ type: 'value', gridIndex: ii, min: -0.38, max: 1.38, z: 11,
    axisLine: { show: true, onZero: false, lineStyle: { color: '#000' } },
    axisTick: { show: true, length: 3.5, customValues: [0, 1], lineStyle: { color: '#000', width: 0.8 } },
    axisLabel: { show: false }, splitLine: { show: false } });
  yAxes.push({ type: 'value', gridIndex: ii, min: 0, max: insetMax, z: 11,
    axisLine: { show: true, onZero: false, lineStyle: { color: '#000' } },
    axisTick: { show: true, length: 3.5, customValues: insetTicks, lineStyle: { color: '#000', width: 0.8 } },
    axisLabel: { customValues: insetTicks, fontFamily: FONT, fontSize: 12.5, color: '#000', margin: 5 },
    splitLine: { show: true, lineStyle: { color: '#dedede', width: 0.8, type: [4, 2.5] } } });
  series.push({
    type: 'bar', xAxisIndex: ii, yAxisIndex: ii, barWidth: 42.6, z: 12, silent: true,
    data: [
      { value: [0, aboveDiagGT[p]], itemStyle: { color: 'rgba(' + gtColors[p] + ',0.45)' } },
      { value: [1, aboveDiagTerm[p]], itemStyle: { color: 'rgba(' + termColor + ',0.45)' } }
    ],
    itemStyle: { borderColor: '#000', borderWidth: 1 },
    label: { show: true, position: 'top', distance: 1.5, fontFamily: FONT, fontSize: 14, fontWeight: 'bold', color: '#000',
      formatter: pr => pr.value[1].toFixed(1) + '%' }
  });
  const cx = L + PLOT_W / 2;
  graphics.push({ type: 'text', x: cx, y: 14, style: { text: 'Token: "' + panelTokens[p] + '"', font: 'bold 16px ' + FONT, fill: '#000', textAlign: 'center', textVerticalAlign: 'middle' } });
  graphics.push({ type: 'text', x: cx, y: 423.5, style: { text: 'Occurrence Rate Before Answer', font: '16px ' + FONT, fill: '#000', textAlign: 'center', textVerticalAlign: 'middle' } });
  graphics.push({ type: 'text', x: L + INSET_DX - 31, y: 78, rotation: Math.PI / 2, z: 20,
    style: { text: 'Above Diag. %', font: '12.5px ' + FONT, fill: '#000', textAlign: 'center', textVerticalAlign: 'middle' } });
}
graphics.push({ type: 'text', x: 20, y: PLOT_TOP + PLOT_H / 2, rotation: Math.PI / 2,
  style: { text: 'Occurrence Rate After Answer', font: '16px ' + FONT, fill: '#000', textAlign: 'center', textVerticalAlign: 'middle' } });

const chart = echarts.init(document.getElementById('c'), null, { renderer: 'canvas' });
chart.setOption({
  animation: false, backgroundColor: '#fff',
  grid: grids, xAxis: xAxes, yAxis: yAxes, series: series, legend: legends, graphic: graphics
});
</script></body></html>
